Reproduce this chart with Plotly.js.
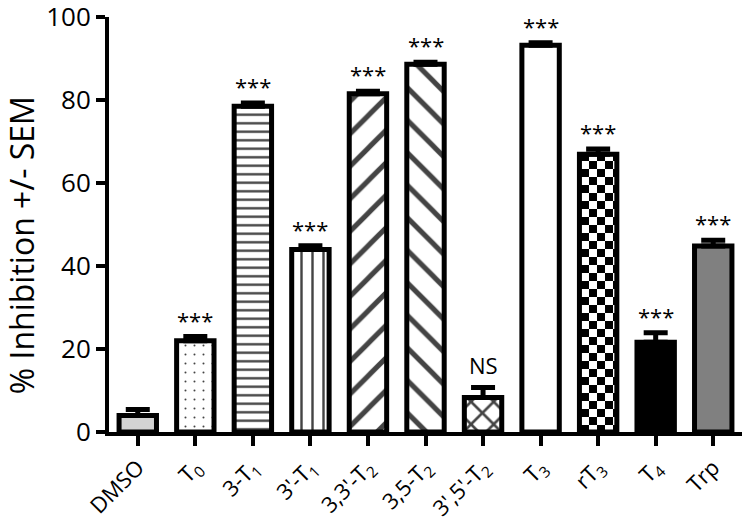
<!DOCTYPE html>
<html>
<head>
<meta charset="utf-8">
<script src="https://cdn.plot.ly/plotly-3.0.1.min.js"></script>
<style>
  body { margin: 0; background: #fff; }
  #graph { width: 750px; height: 525px; }
</style>
</head>
<body>
<!-- damier pour rT3 (plotly n'a pas ce motif) -->
<svg width="0" height="0" style="position:absolute">
  <defs>
    <pattern id="checker" width="16" height="16" patternUnits="userSpaceOnUse">
      <rect width="16" height="16" fill="white"/>
      <rect width="8" height="8" fill="black"/>
      <rect x="8" y="8" width="8" height="8" fill="black"/>
    </pattern>
  </defs>
</svg>
<div id="graph"></div>
<script>
// donnees
var labels = ['DMSO', 'T<sub>0</sub>', '3-T<sub>1</sub>', "3'-T<sub>1</sub>", "3,3'-T<sub>2</sub>",
  '3,5-T<sub>2</sub>', "3',5'-T<sub>2</sub>", 'T<sub>3</sub>', 'rT<sub>3</sub>', 'T<sub>4</sub>', 'Trp'];
var inhibition = [4.0, 22.0, 78.5, 44.0, 81.5, 88.6, 8.3, 93.2, 66.9, 21.6, 44.8];
var sem = [1.4, 1.0, 0.8, 0.9, 0.6, 0.5, 2.4, 0.6, 1.3, 2.3, 1.4];
var signif = ['', '***', '***', '***', '***', '***', 'NS', '***', '***', '***', '***'];
var yTitle = '% Inhibition +/- SEM';

var fillColors = ['#d3d3d3', 'white', 'white', 'white', 'white', 'white', 'white', 'white', 'white', 'black', '#808080'];
var patShapes = ['', '.', '-', '|', '/', '\\', 'x', '', '', '', ''];
var patSizes = [8, 9, 8.5, 11, 23, 23, 16, 8, 8, 8, 8];
var patSolid = [0.3, 0.04, 0.28, 0.22, 0.22, 0.22, 0.3, 0.3, 0.3, 0.3, 0.3];
var checkerIdx = 8; // rT3

var trace = {
  x: labels,
  y: inhibition,
  type: 'bar',
  width: 0.65,
  marker: {
    color: fillColors,
    line: { color: 'black', width: 5 },
    pattern: {
      shape: patShapes,
      size: patSizes,
      solidity: patSolid,
      fgcolor: 'black',
      fgopacity: 1,
      bgcolor: fillColors,
      fillmode: 'overlay'
    }
  },
  error_y: {
    type: 'data',
    symmetric: false,
    array: sem,
    arrayminus: sem.map(function() { return 0; }),
    color: 'black',
    thickness: 5,
    width: 12
  },
  hoverinfo: 'none'
};

// etoiles de significativite
var annots = [];
for (var i = 0; i < labels.length; i++) {
  if (signif[i] === '') continue;
  annots.push({
    x: labels[i],
    y: inhibition[i] + sem[i],
    text: signif[i],
    showarrow: false,
    yanchor: 'bottom',
    yshift: signif[i] === 'NS' ? 6 : 0,
    font: { family: 'Open Sans, sans-serif', size: 22, color: 'black' }
  });
}
// titre de l'axe y (un peu plus bas que le centre, comme l'original)
annots.push({
  xref: 'paper', yref: 'paper',
  x: 0, y: 0.45,
  xanchor: 'center', yanchor: 'middle',
  xshift: -88,
  textangle: -90,
  text: yTitle,
  showarrow: false,
  font: { family: 'Open Sans, sans-serif', size: 32, color: 'black' }
});

var layout = {
  width: 750,
  height: 525,
  margin: { l: 109, r: 8, t: 17, b: 93 },
  paper_bgcolor: 'white',
  plot_bgcolor: 'white',
  showlegend: false,
  font: { family: 'Open Sans, sans-serif', color: 'black' },
  xaxis: {
    type: 'category',
    range: [-0.5, 10.5],
    showline: true,
    linewidth: 4,
    linecolor: 'black',
    ticks: 'outside',
    ticklen: 10,
    tickwidth: 4,
    tickcolor: 'black',
    tickangle: -45,
    tickfont: { size: 22 },
    showgrid: false,
    zeroline: false,
    fixedrange: true
  },
  yaxis: {
    range: [0, 100],
    tickvals: [0, 20, 40, 60, 80, 100],
    ticklabeloverflow: 'allow',
    showline: true,
    linewidth: 4,
    linecolor: 'black',
    ticks: 'outside',
    ticklen: 9,
    tickwidth: 4,
    tickcolor: 'black',
    tickfont: { size: 26 },
    showgrid: false,
    zeroline: false,
    fixedrange: true
  },
  annotations: annots
};

Plotly.newPlot('graph', [trace], layout, { displayModeBar: false, staticPlot: true }).then(function(gd) {
  var bars = gd.querySelectorAll('.barlayer .trace .point path');
  if (bars[checkerIdx]) bars[checkerIdx].style.fill = 'url(#checker)';
});
</script>
</body>
</html>
